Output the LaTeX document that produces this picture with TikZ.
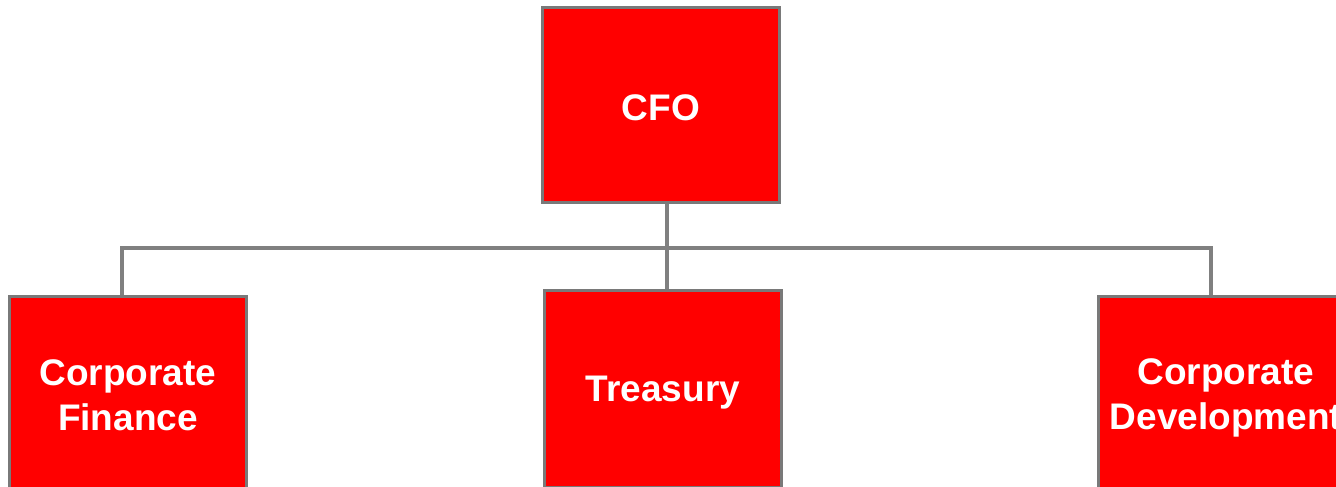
\documentclass[tikz,border=0pt]{standalone}
\usepackage{fontspec}
\setmainfont{Liberation Sans}
\begin{document}
\begin{tikzpicture}[x=1pt,y=1pt,
  orgbox/.style={draw=gray!95!black, line width=2pt, fill=red, text=white,
    font=\bfseries\fontsize{37}{45}\selectfont, align=center, inner sep=0pt,
    minimum width=236pt, minimum height=196pt},
  link/.style={draw=gray, line width=3.6pt, line join=miter}]
\useasboundingbox (0,0) rectangle (1336,-487);
\clip (0,0) rectangle (1336,-487);
% junction points of the tree connectors
\coordinate (bus)  at (667,-248);
\coordinate (busL) at (122,-248);
\coordinate (busR) at (1211,-248);
% boxes
\node[orgbox, minimum height=194pt, text height=32pt, text depth=0pt] (cfo) at (661,-105) {CFO};
\node[orgbox] (cf)  at (128,-395) {Corporate\\Finance};
\node[orgbox, text depth=0pt] (tr) at (663,-389) {Treasury};
\node[orgbox, minimum width=254pt, minimum height=202pt] (dev) at (1226,-398) {Corporate\\Development};
% connectors
\draw[link] (cfo.south -| bus) -- (bus) -- (tr.north -| bus);
\draw[link] (cf.north -| busL) -- (busL) -- (busR) -- (dev.north -| busR);
% box outlines over the connector ends
\foreach \n in {cfo,cf,tr,dev}
  \draw[gray!95!black, line width=2pt] (\n.south west) rectangle (\n.north east);
\end{tikzpicture}
\end{document}
